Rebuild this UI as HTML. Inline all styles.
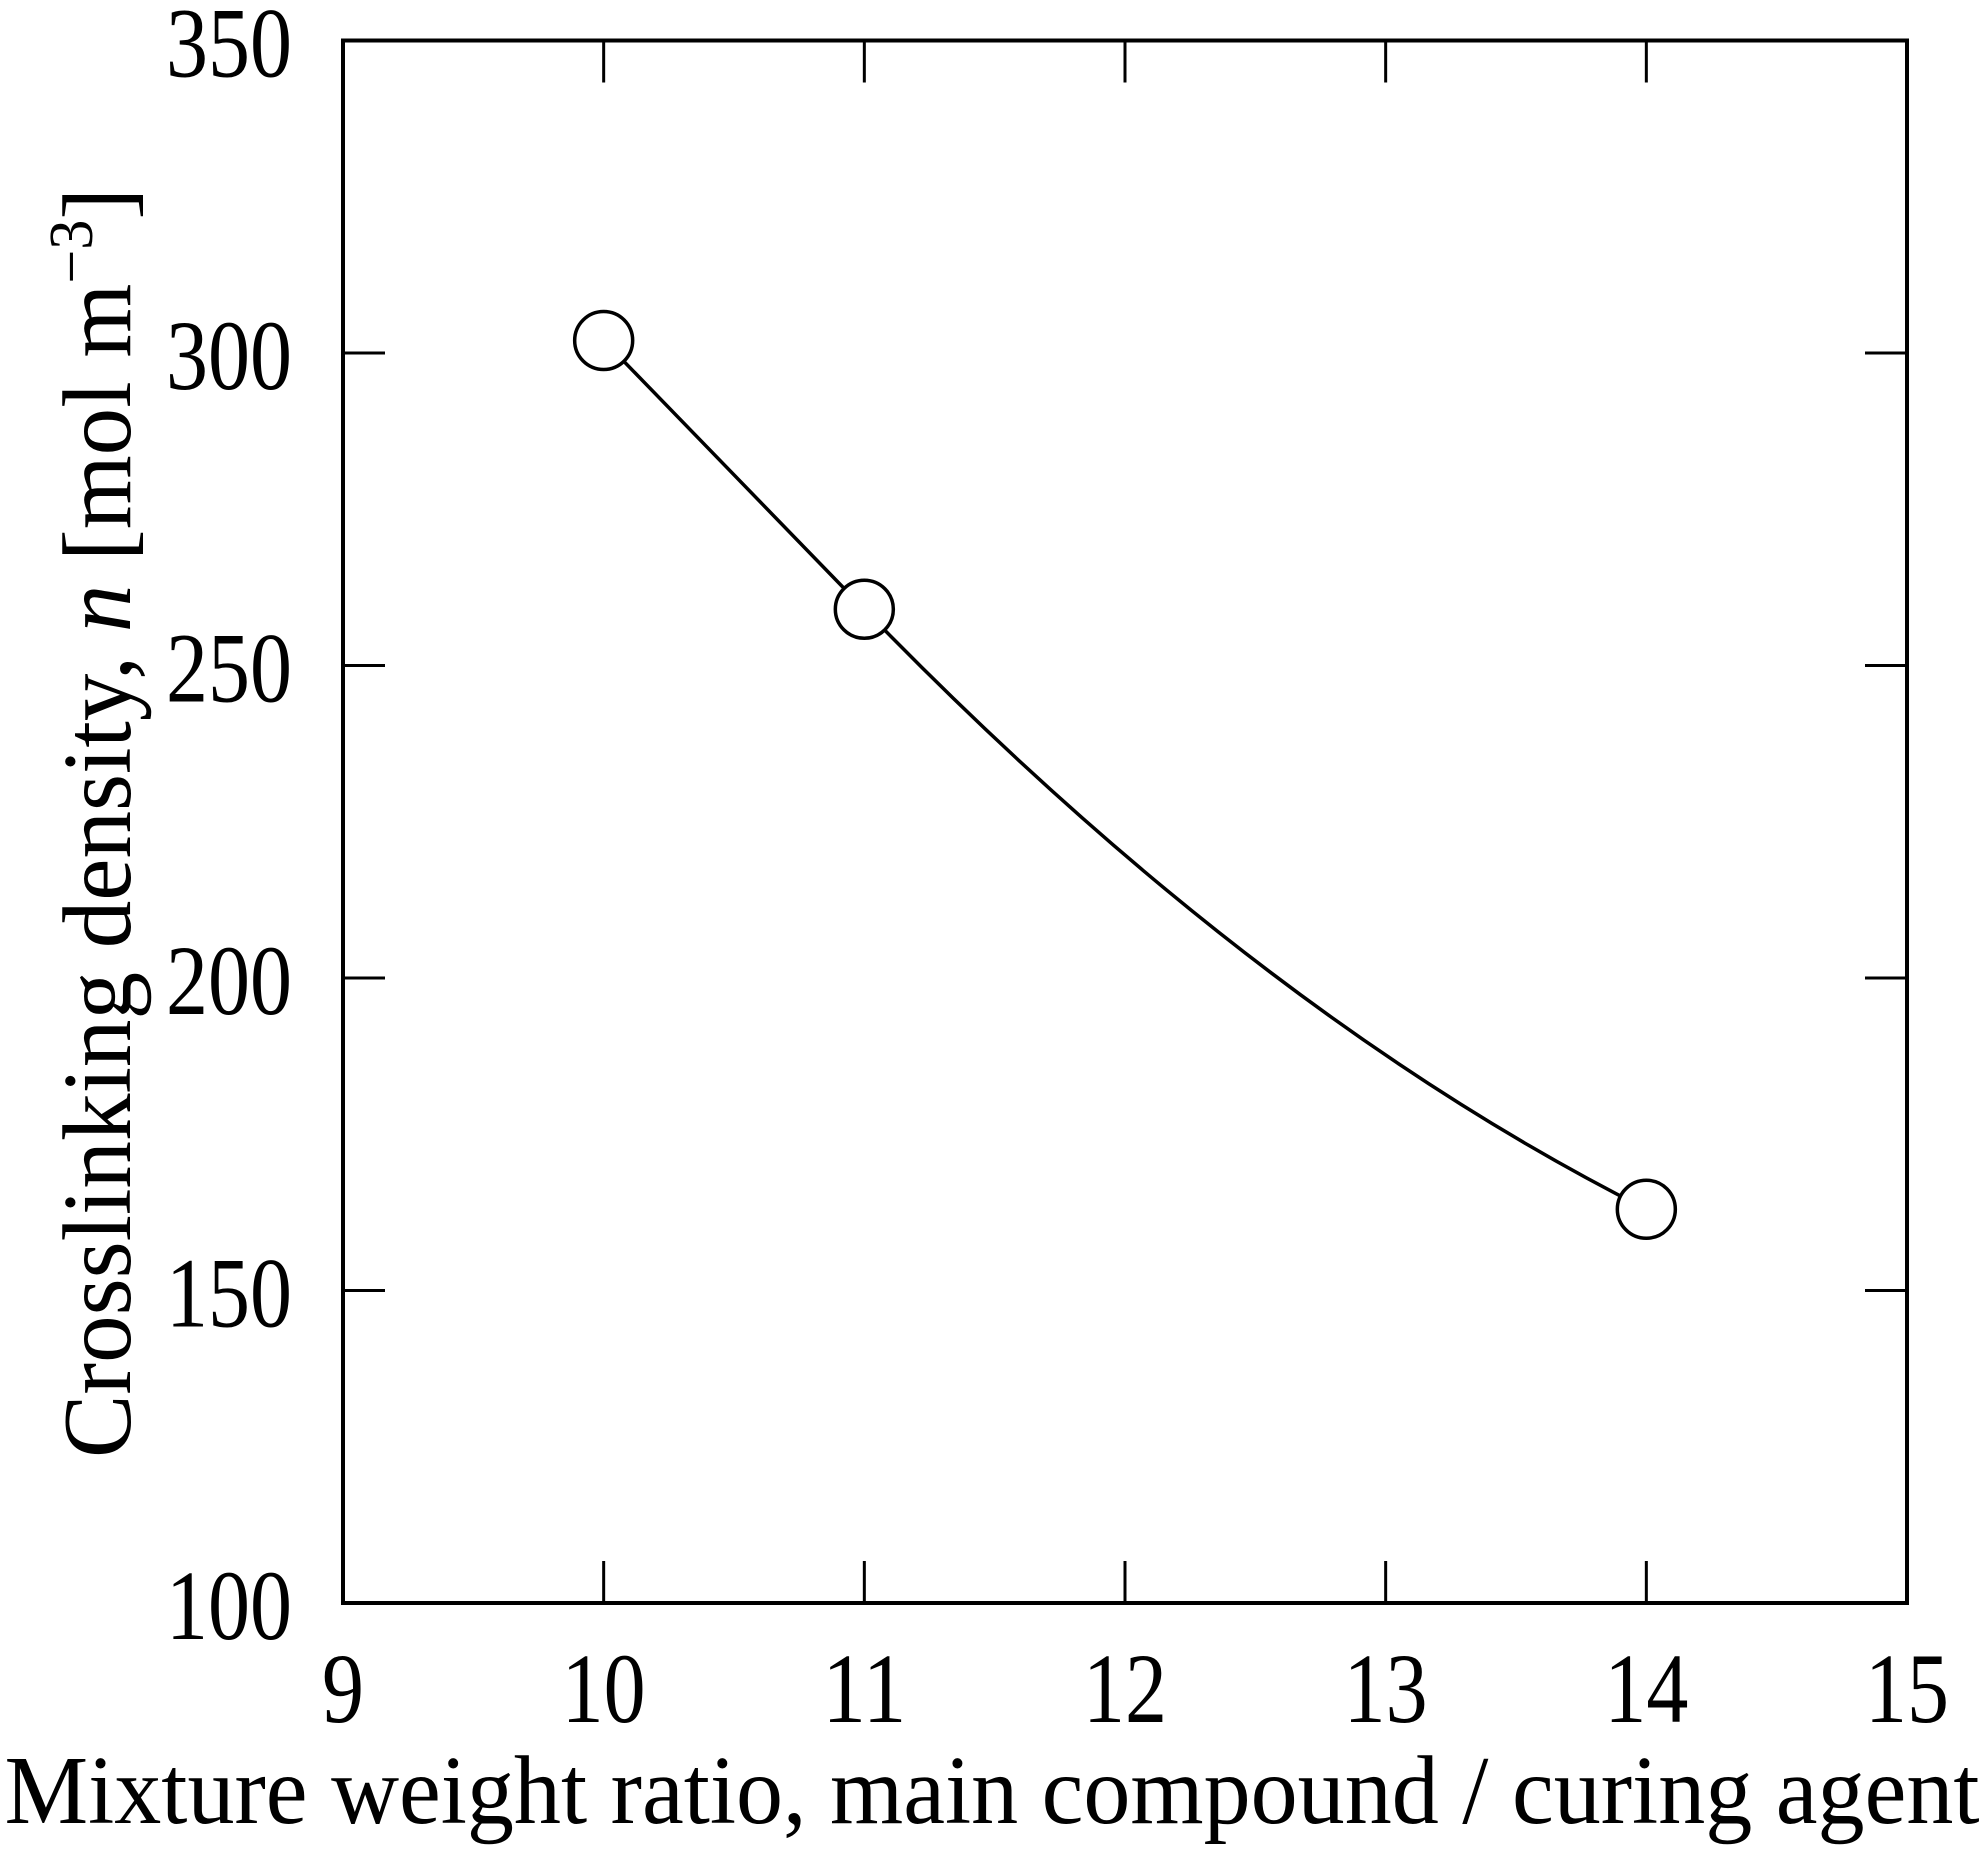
<!DOCTYPE html>
<html><head><meta charset="utf-8"><style>
html,body{margin:0;padding:0;background:#fff}
svg{display:block}
text{font-family:"Liberation Serif",serif;fill:#000}
</style></head><body>
<svg id="chart" width="1984" height="1854" viewBox="0 0 1984 1854" xmlns="http://www.w3.org/2000/svg">
<rect x="343" y="40.5" width="1564" height="1562.5" fill="none" stroke="#000" stroke-width="4"/>
<g id="ticks"></g>
<g id="labels"></g>
<g id="series"></g>
<text x="992" y="1823" font-size="98" text-anchor="middle" textLength="1975" lengthAdjust="spacingAndGlyphs">Mixture weight ratio, main compound / curing agent</text>
<text transform="translate(130,823) rotate(-90)" x="0" y="0" font-size="98" text-anchor="middle" textLength="1270" lengthAdjust="spacingAndGlyphs">Crosslinking density, <tspan font-style="italic">n</tspan> [mol m<tspan font-size="62" dy="-38">−3</tspan><tspan dy="38">]</tspan></text>
</svg>
<script>
const xTicks = [9, 10, 11, 12, 13, 14, 15];
const yTicks = [100, 150, 200, 250, 300, 350];
const xValues = [10, 11, 14];
const yValues = [302, 259, 163];

const L = 343, R = 1907, T = 40.5, B = 1603;
const xMin = 9, xMax = 15, yMin = 100, yMax = 350;
function sx(v){ return L + (v - xMin) / (xMax - xMin) * (R - L); }
function sy(v){ return B - (v - yMin) / (yMax - yMin) * (B - T); }
const NS = "http://www.w3.org/2000/svg";
const tg = document.getElementById('ticks');
const lg = document.getElementById('labels');
const sg = document.getElementById('series');
function mk(tag, attrs, parent){ const e = document.createElementNS(NS, tag); for (const k in attrs) e.setAttribute(k, attrs[k]); parent.appendChild(e); return e; }
const TL = 42;
xTicks.forEach(v => {
  const x = sx(v);
  if (v > xMin && v < xMax) {
    const a = mk('line', {x1:x, y1:B, x2:x, y2:B-TL, stroke:'#000', 'stroke-width':3}, tg);
    
    
    const b = mk('line', {x1:x, y1:T, x2:x, y2:T+TL, stroke:'#000', 'stroke-width':3}, tg);
    
    
  }
  const t = mk('text', {x:x, y:1722, 'font-size':100, 'text-anchor':'middle', textLength: String(v).length*42, lengthAdjust:'spacingAndGlyphs'}, lg);
  t.textContent = v;
  
  
});
yTicks.forEach(v => {
  const y = sy(v);
  if (v > yMin && v < yMax) {
    const a = mk('line', {x1:L, y1:y, x2:L+TL, y2:y, stroke:'#000', 'stroke-width':3}, tg);
    
    
    const b = mk('line', {x1:R, y1:y, x2:R-TL, y2:y, stroke:'#000', 'stroke-width':3}, tg);
    
    
  }
  const t = mk('text', {x:292, y:y+36, 'font-size':100, 'text-anchor':'end', textLength: String(v).length*42, lengthAdjust:'spacingAndGlyphs'}, lg);
  t.textContent = v;
  
  
});
// Hermite curve: first segment nearly straight, later segment flattening
const P = xValues.map((v,i) => [sx(v), sy(yValues[i])]);
const n = P.length;
const sec = [];
for (let i = 0; i < n - 1; i++) sec.push((P[i+1][1]-P[i][1])/(P[i+1][0]-P[i][0]));
const tan = [];
tan[0] = sec[0];
for (let i = 1; i < n - 1; i++) tan[i] = sec[i-1];
tan[n-1] = 2*sec[n-2] - tan[n-2];
let d = 'M' + P[0][0] + ',' + P[0][1];
for (let i = 0; i < n - 1; i++) {
  const h = (P[i+1][0]-P[i][0])/3;
  const c1 = [P[i][0]+h, P[i][1]+tan[i]*h];
  const c2 = [P[i+1][0]-h, P[i+1][1]-tan[i+1]*h];
  d += ' C' + c1 + ' ' + c2 + ' ' + P[i+1];
}
const path = mk('path', {d:d, fill:'none', stroke:'#000', 'stroke-width':3.5}, sg);


P.forEach(p => {
  const c = mk('circle', {cx:p[0], cy:p[1], r:29, fill:'#fff', stroke:'#000', 'stroke-width':3.5}, sg);
  
  
});
</script>
</body></html>
